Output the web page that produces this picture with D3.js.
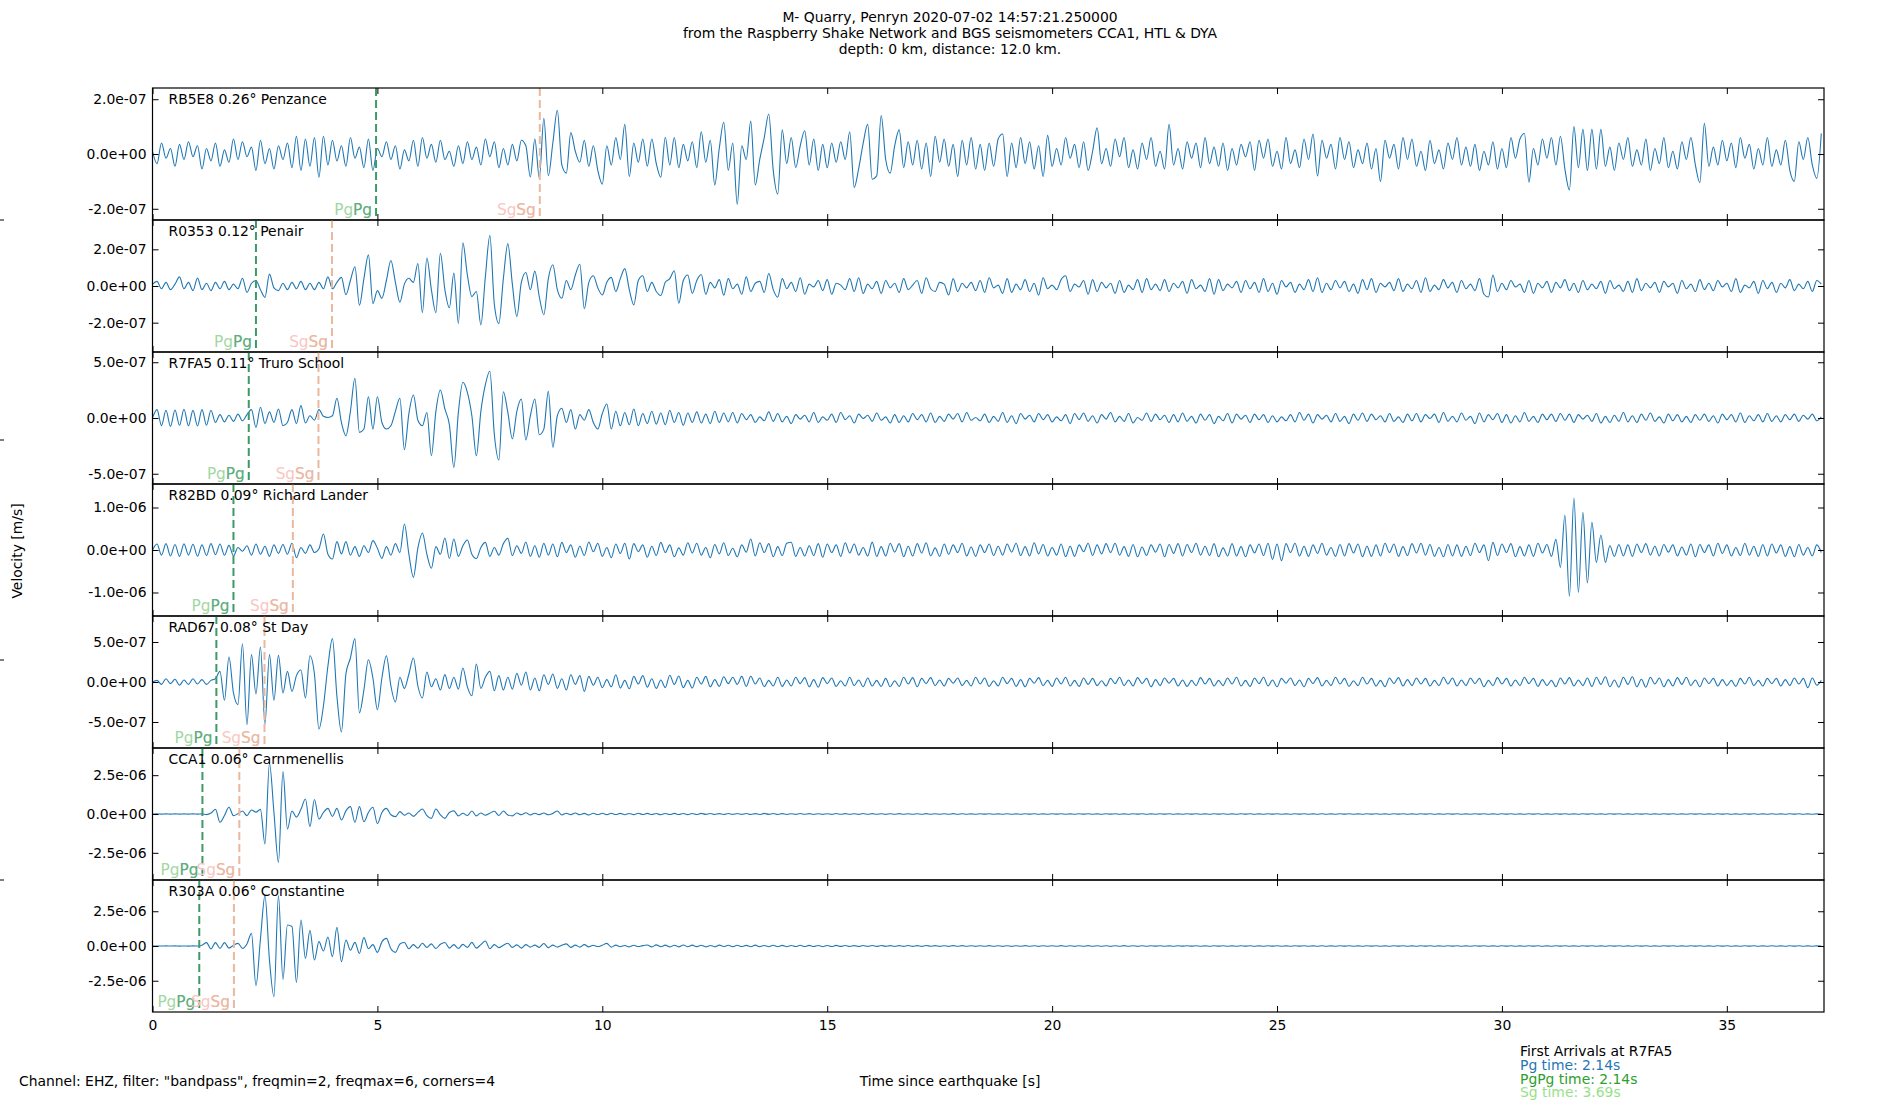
<!DOCTYPE html>
<html lang="en">
<head>
<meta charset="UTF-8">
<title>M- Quarry, Penryn 2020-07-02</title>
<script src="https://cdn.jsdelivr.net/npm/d3@7"></script>
<style>
  body { margin: 0; background: #fff; }
  text { font-family: "DejaVu Sans", sans-serif; }
  .trace { fill: none; stroke: #1f77b4; stroke-width: 1.1px; }
  .tick line { stroke: #000; }
  .tick text { font-size: 13.9px; fill: #000; }
</style>
</head>
<body>
<svg id="chart" width="1900" height="1100"></svg>
<script>
// station labels, y limits (m/s), tick step and picked arrivals (s)
var stations = ["RB5E8 0.26\u00b0 Penzance", "R0353 0.12\u00b0 Penair", "R7FA5 0.11\u00b0 Truro School",
                "R82BD 0.09\u00b0 Richard Lander", "RAD67 0.08\u00b0 St Day", "CCA1 0.06\u00b0 Carnmenellis",
                "R303A 0.06\u00b0 Constantine"];
var yMax = [2.41e-7, 3.6e-7, 5.92e-7, 1.553e-6, 8.25e-7, 4.25e-6, 4.75e-6];
var yStep = [2e-7, 2e-7, 5e-7, 1e-6, 5e-7, 2.5e-6, 2.5e-6];
var pgTimes = [4.97, 2.30, 2.14, 1.80, 1.42, 1.11, 1.04];
var sgTimes = [8.61, 3.99, 3.69, 3.12, 2.49, 1.93, 1.81];
var xTicks = [0, 5, 10, 15, 20, 25, 30, 35];
var xMax = 37.16;
var dt = 0.1; // s between samples

// velocity traces in nm/s, one sample every dt
var rb5e8 = [
10,-35,40,-15,20,-45,35,-20,45,-10,
30,-55,20,-25,40,-45,15,-30,55,-20,
45,-10,25,-60,50,-35,20,-55,30,-20,
40,-50,65,-60,55,-45,60,-85,65,-40,
50,-25,30,-45,60,-15,25,-50,55,-60,
20,-10,45,-20,30,-55,15,-25,50,-45,
60,-15,35,-30,50,-20,10,-45,30,-35,
45,-20,25,-40,55,-10,45,-50,20,-40,
35,-25,50,30,-84,55,-88,130,-79,40,
160,-40,-70,78,10,-30,50,-45,30,-60,
-110,30,-40,60,-20,108,-82,40,-30,55,
-45,55,-35,-85,61,-40,60,-50,35,-25,
45,-50,81,-30,50,-113,20,116,-60,40,
-184,30,-20,120,-113,-20,60,146,-60,-146,
88,-35,60,-50,30,85,-40,55,-60,35,
-50,40,-30,45,-20,81,-122,-53,40,108,
-92,-80,140,-20,-70,30,88,-50,45,-40,
50,-55,40,-82,65,-30,55,-45,35,-82,
50,-40,60,-55,35,-60,40,-45,55,73,
-82,40,-50,60,-35,45,-55,30,-82,68,
-45,20,-40,60,-15,35,-50,45,-60,10,
96,-35,20,-45,55,-10,60,-50,15,-55,
40,-20,60,-45,10,-55,108,-40,20,-55,
45,-15,40,-50,60,-35,25,-45,40,-60,
20,-40,35,-10,45,-60,50,-15,55,-45,
10,-55,60,-35,15,-50,55,-20,73,-80,
50,-15,35,-55,60,-20,45,-50,15,-35,
40,-55,20,-100,50,-15,35,-55,60,-20,
55,-45,10,-60,50,-35,15,-55,40,-20,
60,-40,25,-45,35,-60,10,-40,45,-55,
20,-50,60,-15,55,75,-103,20,-40,55,
-15,60,-40,65,-55,-131,100,-50,90,-60,
90,-55,90,-45,25,-60,40,-20,60,-45,
15,-40,55,-60,20,-35,60,-50,10,-55,
45,-20,60,-40,-105,112,-45,25,-40,50,
-25,40,-50,60,-15,35,-55,20,-40,60,
-45,15,-40,50,-60,-100,45,-20,60,-40,
-89,75];

var r0353 = [
10,25,-15,20,-20,10,50,-15,20,-25,
43,-20,15,-25,20,-15,25,-20,10,-15,
42,-35,15,30,-20,-62,65,-10,-25,15,
-20,20,-15,25,-20,15,-20,20,-15,50,
-15,20,47,-48,30,105,-105,40,170,-95,
-25,-67,30,139,20,-88,10,42,20,123,
-145,153,-20,-145,179,-20,-119,70,-204,235,
60,-58,-30,-212,50,275,-100,-204,40,231,
10,-166,20,74,-20,81,-60,-157,40,116,
-20,-67,30,-20,60,119,-124,20,56,-10,
-49,20,47,-30,40,95,-20,-103,30,56,
-30,20,-30,-52,20,40,83,-94,30,60,
-40,30,63,-45,20,-10,35,-50,40,-15,
10,-45,50,-30,15,25,-35,68,-20,-61,
40,-15,20,-30,45,-45,10,-5,30,-25,
35,-45,15,5,-20,40,-30,45,-40,10,
-15,25,-40,30,-10,15,-35,40,-20,5,
30,-40,45,-15,-30,20,10,-49,40,-30,
15,-10,20,-25,30,-35,45,-10,5,-40,
40,-35,10,-20,35,-30,15,-50,45,-15,
5,-20,35,56,-30,10,-5,30,-45,35,
-30,20,-10,15,-40,30,-35,5,-20,35,
-35,40,-20,10,-25,35,-30,15,-10,25,
-40,35,-15,5,-30,40,-45,35,-25,10,
-10,25,-35,30,-15,20,-35,40,-30,15,
-45,30,-5,20,-35,10,-20,35,-30,45,
-35,15,-20,30,-10,25,-30,10,-40,35,
-20,40,-35,15,-5,20,-25,40,-30,10,
-15,30,-35,45,-30,5,-20,35,-10,20,
-35,30,-15,10,-25,40,-45,-60,60,-30,
15,-20,30,-5,10,-35,30,-40,15,-10,
25,-35,20,-10,35,-25,15,-35,30,-20,
10,-15,25,-40,30,-15,5,-30,25,-35,
40,-25,15,-10,20,-35,25,-5,15,-40,
30,-15,10,-30,35,-20,15,-25,30,-5,
15,-30,40,-35,5,-10,25,-40,30,-15,
20,-35,15,-10,35,-25,10,-15,25,-30,
30,10];

var r7fa5 = [
0,75,-69,70,-75,72,-65,78,-70,68,
-72,75,-65,70,-40,30,-35,25,-30,35,
-25,30,75,-84,96,-50,55,-40,81,-69,
-40,75,-50,111,-45,20,-20,75,15,5,
20,177,-40,-159,60,356,-129,-99,191,-99,
191,-40,-99,-69,60,177,-284,40,206,-20,
-69,50,-338,60,251,81,-60,-443,50,320,
230,20,-338,60,300,419,-150,-377,236,50,
-188,60,170,-197,20,170,-150,-100,239,-263,
20,87,-40,75,-99,30,-20,75,-40,-99,
40,126,-99,60,-70,50,-60,81,-69,40,
-50,60,-55,45,-60,70,-40,50,-65,45,
-40,55,-45,35,-50,60,-40,45,-35,50,
-45,40,-15,30,-40,10,-25,55,-30,40,
-35,15,-50,30,-10,25,-35,50,-40,10,
-20,35,-40,50,-15,20,-45,35,-5,25,
-30,45,-20,10,-45,30,-40,20,-35,40,
-15,30,-35,45,-40,15,-30,35,-10,40,
-35,50,-20,5,-25,35,-40,15,-30,50,
-40,20,-50,40,-10,25,-35,40,-15,30,
-35,10,-25,30,-50,40,-15,45,-30,20,
-45,30,-10,50,-35,15,-30,40,-45,5,
-20,45,-30,35,-15,25,-40,30,-35,45,
-30,15,-45,35,-20,30,-50,15,-25,40,
-45,35,-10,25,-40,35,-15,30,-40,20,
-35,10,-25,30,-35,50,-20,35,-45,30,
-10,25,-35,40,-30,15,-50,35,-20,45,
-30,35,-15,20,-35,40,-30,10,-40,35,
-25,40,-35,30,-5,35,-40,50,-30,15,
-35,45,-20,15,-50,45,-35,30,-15,40,
-40,30,-45,20,-35,50,-30,15,-40,35,
-15,35,-30,40,-20,35,-40,30,-10,25,
-30,40,-45,15,-40,25,-30,50,-35,20,
-40,35,-20,45,-30,10,-45,35,-25,30,
-35,15,-40,30,-20,35,-30,20,-45,35,
-15,30,-35,45,-40,20,-25,30,-35,40,
-30,20,-35,30,-15,35,-30,25,-10,35,
-25,10];

var r82bd = [
0,140,-120,150,-140,130,-150,145,-120,135,
-145,120,-130,150,-110,140,-125,110,-140,60,
-30,100,-120,140,-100,90,-150,120,-80,130,
-100,160,-180,60,-80,120,-60,30,376,-100,
-212,196,-90,196,-120,80,-150,100,-60,220,
40,-196,80,-120,150,-60,611,-100,-643,50,
400,-100,-431,80,-100,282,-200,259,-150,100,
235,-100,-200,60,180,-150,60,-120,150,274,
-133,100,-80,190,-150,100,-170,160,-120,140,
-160,180,-60,120,-170,90,-130,190,-40,160,
-150,60,-180,140,-80,160,-212,150,-40,120,
-170,90,-130,180,-60,120,-160,50,-120,170,
-70,160,-120,60,-180,130,-90,170,-130,40,
-160,120,-50,259,-140,170,-60,150,-160,80,
-130,160,183,-150,60,-140,100,-130,150,-172,
140,-60,120,-150,170,-70,140,-120,60,-140,
185,-150,80,-140,160,-50,150,-160,90,-140,
150,-70,170,-140,50,-150,140,-100,120,-60,
160,-140,70,-150,120,-60,140,-130,90,-120,
140,-50,160,-130,80,-140,170,-90,130,-140,
60,-120,140,-160,90,-150,120,-40,160,-130,
120,-90,150,-60,160,-120,80,-150,130,-160,
70,-130,120,-50,140,-160,130,-80,150,-140,
130,-60,160,-120,90,-130,150,-160,50,-140,
150,-140,80,-160,120,-70,140,-130,160,-220,
140,-250,150,-60,160,-140,90,-150,120,-80,
160,-120,60,-150,130,-140,150,-70,140,-160,
90,-150,120,-140,160,-60,140,-150,80,-130,
150,-70,160,-120,130,-150,60,-160,130,-140,
120,-150,90,-130,160,-60,120,-250,180,-130,
140,-60,150,-160,80,-140,120,-150,160,-70,
130,-150,250,-408,823,-1090,1223,-996,886,-776,
650,-290,353,-290,100,-150,130,-140,120,-150,
140,-60,150,-120,90,-140,130,-50,120,-140,
70,-120,140,-160,130,-60,120,-140,160,-80,
120,-140,60,-130,160,-120,90,-150,130,-140,
140,-70,120,-150,80,-160,130,-120,60,-140,
120,-60];

var rad67 = [
0,20,-30,40,-20,35,-40,25,-30,40,
-25,30,-30,20,42,133,-229,312,-137,-283,
479,-533,342,-150,437,-525,342,-229,333,-137,
133,-117,80,150,-200,329,100,-588,-300,200,
542,-179,-625,100,300,542,-387,-100,279,50,
-346,50,329,-50,-250,60,-80,100,300,-50,
-200,125,-60,40,-100,92,-80,60,-90,175,
-60,-171,225,-80,60,133,-110,80,-100,60,
-90,110,-40,125,-100,50,-110,90,-30,100,
-80,40,-100,90,-30,80,-117,70,-40,60,
-70,30,-60,90,-75,20,-85,70,-25,80,
-65,40,-80,25,-70,85,-30,75,-70,20,
-75,60,-25,70,-60,30,-55,65,-20,60,
-30,70,-55,71,-25,50,-60,20,-50,60,
-55,25,-50,60,-20,55,-60,30,-65,55,
-20,50,-55,15,-50,60,-45,25,-60,50,
-50,20,-55,45,-60,15,-55,60,-25,55,
-60,45,-20,55,-45,25,-50,45,-15,50,
-45,20,-50,60,-25,50,-55,15,-50,60,
-20,45,-55,30,-60,45,-15,55,-45,20,
-55,50,-25,60,-50,20,-55,50,-30,45,
-45,15,-50,45,-20,60,-45,25,-50,55,
-20,45,-60,30,-45,50,-15,45,-50,25,
-55,20,-45,55,-25,45,-50,20,-45,50,
-25,60,-50,20,-55,50,-20,60,-50,25,
-60,45,-15,50,-45,25,-60,45,-20,55,
-50,20,-45,60,-25,45,-55,15,-45,60,
-25,45,-50,20,-60,50,-20,55,-50,30,
-45,50,-25,45,-50,20,-45,60,-25,50,
-50,25,-45,50,-20,45,-60,20,-45,55,
-25,45,-50,25,-45,60,-20,45,-55,30,
-45,20,-60,50,-25,55,-50,25,-45,50,
-55,60,-30,65,-60,25,-65,60,-30,65,
-60,35,-65,60,-25,50,-60,30,-50,55,
-30,60,-45,25,-60,50,-20,45,-50,30,
-45,20,-55,45,-25,60,-45,20,-50,45,
-20,45,-50,30,-45,50,-25,45,-70,50,
-40,20];

var cca1 = [
0,5,-5,8,-6,5,-8,6,-5,7,
-6,5,-40,60,303,-535,-100,432,-107,20,
193,-107,258,120,300,-1933,3267,100,-3115,2730,
-967,193,-200,300,967,-817,935,-322,100,365,
-150,365,-386,200,472,-537,472,-500,100,430,
-623,100,365,-50,-172,150,-80,60,-150,100,
322,-100,-280,322,-50,-280,100,200,-120,50,
-100,193,-120,60,-80,50,180,-100,190,-60,
-120,60,-50,80,-60,50,-40,60,-50,40,
193,-60,50,-40,60,-50,40,-60,45,-35,
50,-40,45,-35,40,-50,35,-40,45,-30,
40,-35,30,-45,35,-30,40,-35,30,-40,
35,-30,40,-25,30,-35,25,-30,35,-25,
30,-25,35,-30,25,-30,40,-25,30,-35,
25,-30,20,-25,30,-20,25,-30,20,-25,
20,-25,30,-20,25,-20,20,-25,30,-20,
25,-20,20,-25,20,-15,25,-20,15,-20,
20,-15,25,-20,15,-20,20,-15,25,-20,
15,-20,10,-15,20,-10,15,-20,10,-15,
20,-15,10,-20,15,-10,20,-15,10,-20,
15,-10,20,-15,10,-20,15,-10,20,-15,
10,-15,20,-10,15,-20,10,-15,20,-10,
15,-20,10,-15,20,-10,15,-20,10,-15,
20,-10,15,-20,10,-15,20,-10,15,-20,
10,-15,20,-10,15,-20,10,-15,20,-10,
15,-20,10,-15,20,-10,15,-20,10,-15,
20,-15,10,-20,15,-10,20,-15,10,-20,
15,-10,20,-15,10,-20,15,-10,20,-15,
10,-20,15,-10,20,-15,10,-20,15,-10,
20,-15,10,-20,15,-10,20,-15,10,-20,
15,-10,20,-15,10,-20,15,-10,20,-15,
10,-15,20,-10,15,-20,10,-15,20,-10,
15,-20,10,-15,20,-10,15,-20,10,-15,
20,-10,15,-20,10,-15,20,-10,15,-20,
10,-15,20,-10,15,-20,10,-15,20,-10,
15,-20,10,-15,20,-10,15,-20,10,-15,
20,-15,10,-20,15,-10,20,-15,10,-20,
10,-5];

var r303a = [
0,5,-5,6,-5,8,-6,5,-7,6,
-5,60,240,-216,240,-168,240,-150,50,192,
-168,150,912,-2856,500,3624,-1000,-3648,3624,-2400,
1512,1400,-2616,1872,-888,1128,-1008,312,-360,648,
-768,1344,-1128,432,-300,264,-528,600,-200,100,
-456,300,552,-200,-456,150,250,-200,100,-150,
200,-100,150,-180,120,250,-150,100,-180,120,
-100,264,-150,100,360,-200,100,-120,60,200,
-100,80,-150,100,-80,60,-100,180,-120,60,
-80,50,150,-100,60,-80,100,-60,50,-40,
60,192,-80,60,-50,40,-60,50,-40,30,
70,-60,80,-50,60,-70,50,-60,70,-50,
60,-45,50,-60,40,-55,60,-40,50,-45,
55,-40,45,-50,60,-45,40,-55,50,-40,
45,-50,40,-35,50,-40,45,-35,40,-50,
40,-35,45,-30,40,-35,30,-40,35,-30,
35,-30,40,-25,30,-35,25,-30,35,-25,
30,-25,35,-20,30,-25,20,-30,25,-20,
25,-20,15,-25,20,-15,25,-20,15,-25,
20,-25,15,-20,25,-15,20,-25,15,-20,
15,-20,25,-15,20,-25,15,-20,25,-15,
20,-15,20,-25,15,-20,25,-15,20,-25,
15,-20,15,-10,20,-15,10,-20,15,-10,
20,-10,15,-20,10,-15,20,-10,15,-20,
10,-15,20,-10,15,-20,10,-15,20,-10,
15,-20,10,-15,20,-10,15,-20,10,-15,
20,-15,10,-20,15,-10,20,-15,10,-20,
15,-10,20,-15,10,-20,15,-10,20,-15,
10,-20,15,-10,20,-15,10,-20,15,-10,
20,-15,10,-20,15,-10,20,-15,10,-20,
15,-10,20,-15,10,-20,15,-10,20,-15,
10,-15,20,-10,15,-20,10,-15,20,-10,
15,-20,10,-15,20,-10,15,-20,10,-15,
20,-10,15,-20,10,-15,20,-10,15,-20,
10,-15,20,-10,15,-20,10,-15,20,-10,
15,-20,10,-15,20,-10,15,-20,10,-15,
20,-15,10,-20,15,-10,20,-15,10,-20,
10,-5];

var traces = [rb5e8, r0353, r7fa5, r82bd, rad67, cca1, r303a];

var titleLines = ["M- Quarry, Penryn 2020-07-02 14:57:21.250000",
                  "from the Raspberry Shake Network and BGS seismometers CCA1, HTL & DYA",
                  "depth: 0 km, distance: 12.0 km."];
var arrivalLines = [["First Arrivals at R7FA5", "#000"], ["Pg time: 2.14s", "#1f77b4"],
                    ["PgPg time: 2.14s", "#2ca02c"], ["Sg time: 3.69s", "#98df8a"]];

var W = 1900, H = 1100;
var plotL = 152.5, plotR = 1824, plotT = 88, plotB = 1012;
var rowH = (plotB - plotT) / traces.length;

var svg = d3.select("#chart");
svg.append("rect").attr("width", W).attr("height", H).attr("fill", "#fff");

var x = d3.scaleLinear().domain([0, xMax]).range([plotL, plotR]);

// "0.0e+00" style labels
function sci(v) {
    if (v === 0) return "0.0e+00";
    var parts = v.toExponential(1).split("e");
    var e = parseInt(parts[1], 10);
    return parts[0] + "e" + (e < 0 ? "-" : "+") + String(Math.abs(e)).padStart(2, "0");
}

traces.forEach(function(data, i) {
    var y0 = plotT + i * rowH;
    var y = d3.scaleLinear().domain([-yMax[i], yMax[i]]).range([y0 + rowH, y0]);
    var g = svg.append("g");

    g.append("clipPath").attr("id", "clip" + i)
        .append("rect").attr("x", plotL).attr("y", y0).attr("width", plotR - plotL).attr("height", rowH);

    var line = d3.line()
        .x(function(d, k) { return x(k * dt); })
        .y(function(d) { return y(d * 1e-9); })
        .curve(d3.curveMonotoneX);

    g.append("path").datum(data)
        .attr("class", "trace")
        .attr("clip-path", "url(#clip" + i + ")")
        .attr("d", line);

    // arrival markers: Pg drawn twice (Pg & PgPg picks), Sg once
    var xp = x(pgTimes[i]), xs = x(sgTimes[i]);
    g.append("line").attr("x1", xp).attr("x2", xp).attr("y1", y0).attr("y2", y0 + rowH)
        .attr("stroke", "#3d9a68").attr("stroke-width", 2).attr("stroke-dasharray", "8,4");
    g.append("line").attr("x1", xs).attr("x2", xs).attr("y1", y0).attr("y2", y0 + rowH)
        .attr("stroke", "#eab89c").attr("stroke-width", 2).attr("stroke-dasharray", "8,4");

    var by = y0 + rowH - 5;
    g.append("text").attr("x", xp - 4).attr("y", by).attr("text-anchor", "end")
        .attr("font-size", "15.3px").attr("fill", "#a2d7a2").text("PgPg");
    g.append("text").attr("x", xp - 4).attr("y", by).attr("text-anchor", "end")
        .attr("font-size", "15.3px").attr("fill", "#5fae80").text("Pg");
    g.append("text").attr("x", xs - 4).attr("y", by).attr("text-anchor", "end")
        .attr("font-size", "15.3px").attr("fill", "#f9c6c2").text("SgSg");
    g.append("text").attr("x", xs - 4).attr("y", by).attr("text-anchor", "end")
        .attr("font-size", "15.3px").attr("fill", "#eab9a0").text("Sg");

    g.append("text").attr("x", plotL + 16).attr("y", y0 + 16)
        .attr("font-size", "13.9px").attr("fill", "#000").text(stations[i]);

    var yt = [-yStep[i], 0, yStep[i]];
    g.append("g").attr("transform", "translate(" + plotL + ",0)")
        .call(d3.axisLeft(y).tickValues(yt).tickFormat(sci).tickSizeInner(-6).tickSizeOuter(0).tickPadding(6))
        .call(function(a) { a.select(".domain").remove(); });
    g.append("g").attr("transform", "translate(" + plotR + ",0)")
        .call(d3.axisRight(y).tickValues(yt).tickFormat("").tickSizeInner(-6).tickSizeOuter(0))
        .call(function(a) { a.select(".domain").remove(); });

    g.append("g").attr("transform", "translate(0," + y0 + ")")
        .call(d3.axisTop(x).tickValues(xTicks).tickFormat("").tickSizeInner(-6).tickSizeOuter(0))
        .call(function(a) { a.select(".domain").remove(); });
    var bx = g.append("g").attr("transform", "translate(0," + (y0 + rowH) + ")")
        .call(d3.axisBottom(x).tickValues(xTicks).tickSizeInner(-6).tickSizeOuter(0).tickPadding(8))
        .call(function(a) { a.select(".domain").remove(); });
    if (i < traces.length - 1) bx.selectAll("text").remove();

    g.append("rect").attr("x", plotL).attr("y", y0).attr("width", plotR - plotL).attr("height", rowH)
        .attr("fill", "none").attr("stroke", "#000").attr("stroke-width", 1.2);
});

svg.selectAll(".tick text").attr("font-family", "DejaVu Sans, sans-serif");

// stray ticks of the shared ylabel axes at the left edge
[220, 440, 660, 880].forEach(function(v) {
    svg.append("line").attr("x1", 0).attr("x2", 4).attr("y1", v).attr("y2", v).attr("stroke", "#000");
});

svg.append("g").selectAll("text").data(titleLines).join("text")
    .attr("x", 950).attr("y", function(d, k) { return 22 + k * 16.2; })
    .attr("text-anchor", "middle").attr("font-size", "13.9px").text(function(d) { return d; });

svg.append("text").attr("transform", "translate(22,551) rotate(-90)")
    .attr("text-anchor", "middle").attr("font-size", "13.9px").text("Velocity [m/s]");

svg.append("text").attr("x", 19).attr("y", 1086).attr("font-size", "13.9px")
    .text('Channel: EHZ, filter: "bandpass", freqmin=2, freqmax=6, corners=4');
svg.append("text").attr("x", 950).attr("y", 1086).attr("text-anchor", "middle")
    .attr("font-size", "13.9px").text("Time since earthquake [s]");

svg.append("g").selectAll("text").data(arrivalLines).join("text")
    .attr("x", 1520).attr("y", function(d, k) { return 1056 + k * 13.8; })
    .attr("font-size", "13.9px").attr("fill", function(d) { return d[1]; })
    .text(function(d) { return d[0]; });
</script>
</body>
</html>
